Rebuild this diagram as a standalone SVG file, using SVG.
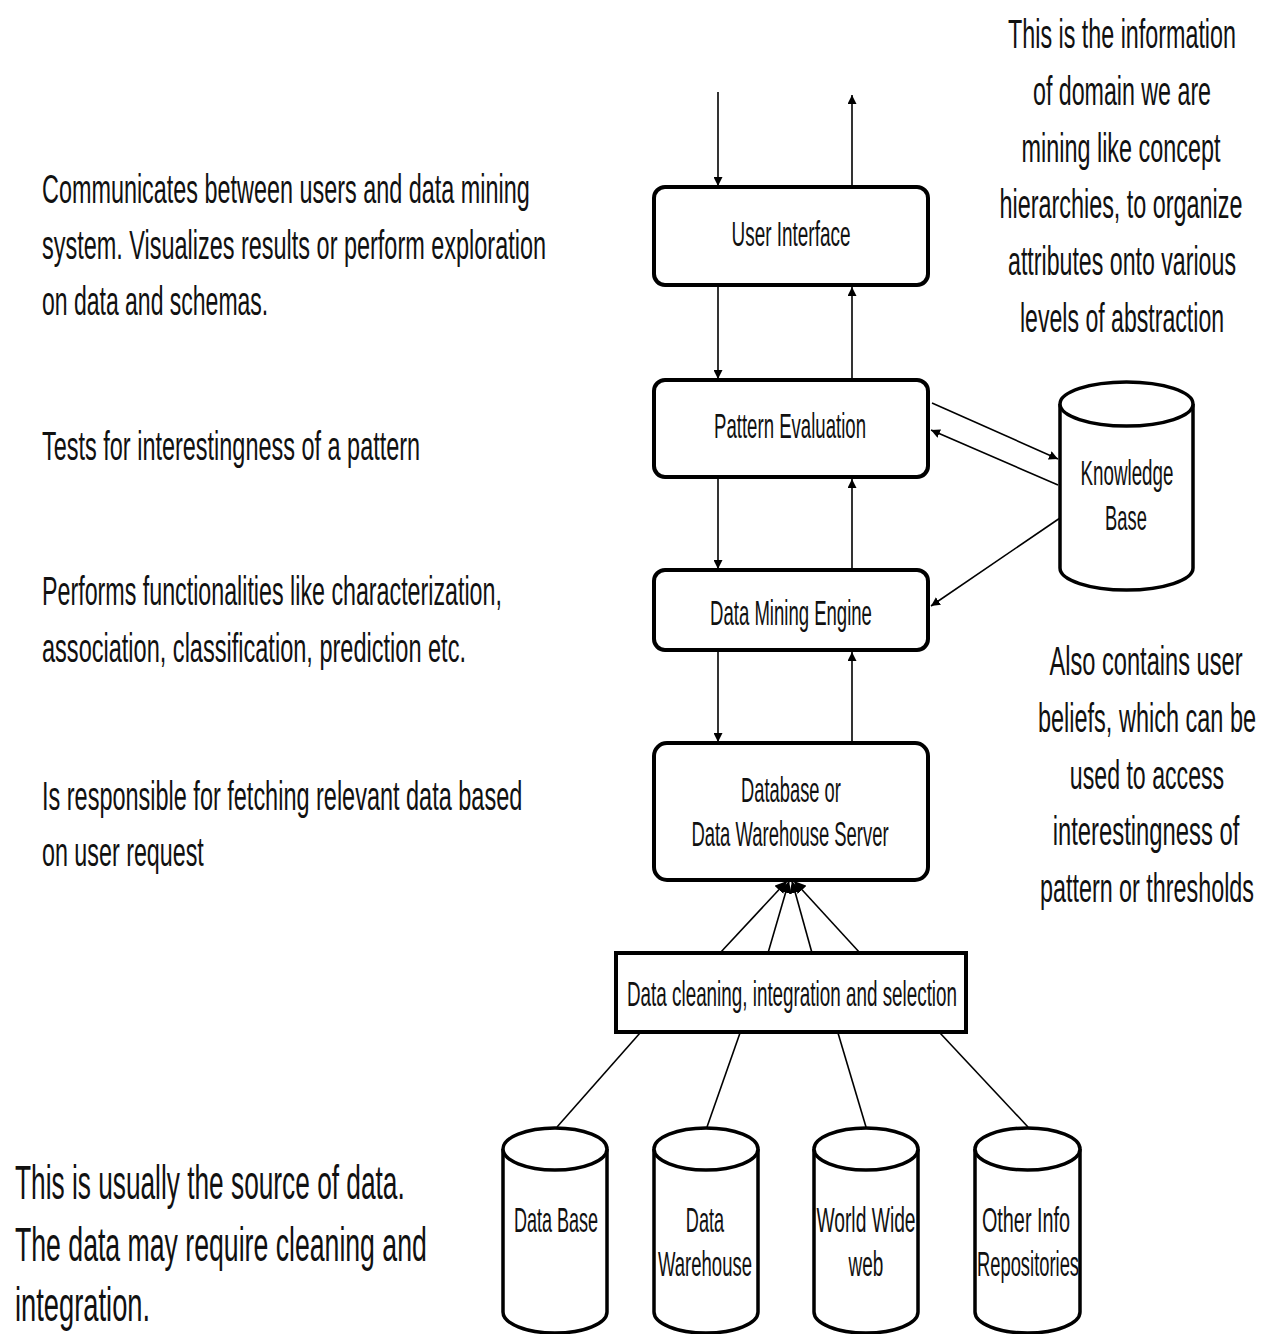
<svg xmlns="http://www.w3.org/2000/svg" width="1266" height="1334" viewBox="0 0 1266 1334">
<style>
.box{fill:#fff;stroke:#000;stroke-width:4}
.cyl{fill:#fff;stroke:#000;stroke-width:3.5}
.ln{stroke:#000;stroke-width:1.6;fill:none}
.nt{font-family:"Liberation Sans",Arial,sans-serif;font-size:35px;fill:#111;text-anchor:middle}
.an{font-family:"Liberation Sans",Arial,sans-serif;font-size:41px;fill:#111}
.anc{font-family:"Liberation Sans",Arial,sans-serif;font-size:41px;fill:#111;text-anchor:middle}
.big{font-family:"Liberation Sans",Arial,sans-serif;font-size:48px;fill:#111}
</style>
<defs>
<marker id="ah" viewBox="0 0 10 10" refX="10" refY="5" markerWidth="9" markerHeight="9" markerUnits="userSpaceOnUse" orient="auto">
<path d="M0,0 L10,5 L0,10 z" fill="#000"/>
</marker>
<marker id="ahl" viewBox="0 0 10 10" refX="10" refY="5" markerWidth="12" markerHeight="12" markerUnits="userSpaceOnUse" orient="auto">
<path d="M0,0 L10,5 L0,10 z" fill="#000"/>
</marker>
</defs>

<g id="connectors">
<line class="ln" x1="718" y1="92" x2="718" y2="186" marker-end="url(#ah)"/>
<line class="ln" x1="852" y1="187" x2="852" y2="95" marker-end="url(#ah)"/>
<line class="ln" x1="718" y1="286" x2="718" y2="379" marker-end="url(#ah)"/>
<line class="ln" x1="852" y1="380" x2="852" y2="287" marker-end="url(#ah)"/>
<line class="ln" x1="718" y1="478" x2="718" y2="569" marker-end="url(#ah)"/>
<line class="ln" x1="852" y1="570" x2="852" y2="479" marker-end="url(#ah)"/>
<line class="ln" x1="718" y1="651" x2="718" y2="742" marker-end="url(#ah)"/>
<line class="ln" x1="852" y1="743" x2="852" y2="652" marker-end="url(#ah)"/>
<line class="ln" x1="932" y1="403" x2="1058" y2="459" marker-end="url(#ah)"/>
<line class="ln" x1="1058" y1="485" x2="931" y2="430" marker-end="url(#ah)"/>
<line class="ln" x1="1060" y1="518" x2="931" y2="606" marker-end="url(#ah)"/>
<line class="ln" x1="720" y1="953" x2="787" y2="881" marker-end="url(#ahl)"/>
<line class="ln" x1="768" y1="953" x2="789" y2="881" marker-end="url(#ahl)"/>
<line class="ln" x1="812" y1="953" x2="792" y2="881" marker-end="url(#ahl)"/>
<line class="ln" x1="860" y1="953" x2="794" y2="881" marker-end="url(#ahl)"/>
<line class="ln" x1="640" y1="1033" x2="557" y2="1127"/>
<line class="ln" x1="740" y1="1033" x2="707" y2="1127"/>
<line class="ln" x1="838" y1="1033" x2="866" y2="1127"/>
<line class="ln" x1="940" y1="1033" x2="1028" y2="1127"/>
</g>

<g id="user-interface">
<rect class="box" x="654" y="187" width="274" height="98" rx="11"/>
<text class="nt" transform="translate(791,246) scale(0.58,1)" textLength="205" lengthAdjust="spacingAndGlyphs">User Interface</text>
</g>
<g id="pattern-evaluation">
<rect class="box" x="654" y="380" width="274" height="97" rx="11"/>
<text class="nt" transform="translate(790,438) scale(0.58,1)" textLength="262" lengthAdjust="spacingAndGlyphs">Pattern Evaluation</text>
</g>
<g id="data-mining-engine">
<rect class="box" x="654" y="570" width="274" height="80" rx="11"/>
<text class="nt" transform="translate(791,625) scale(0.58,1)" textLength="279" lengthAdjust="spacingAndGlyphs">Data Mining Engine</text>
</g>
<g id="db-server">
<rect class="box" x="654" y="743" width="274" height="137" rx="13"/>
<text class="nt" transform="translate(791,802) scale(0.58,1)" textLength="172" lengthAdjust="spacingAndGlyphs">Database or</text>
<text class="nt" transform="translate(790,846) scale(0.58,1)" textLength="340" lengthAdjust="spacingAndGlyphs">Data Warehouse Server</text>
</g>
<g id="data-cleaning">
<rect class="box" x="616" y="953" width="350" height="79"/>
<text class="nt" transform="translate(792,1006) scale(0.58,1)" textLength="569" lengthAdjust="spacingAndGlyphs">Data cleaning, integration and selection</text>
</g>
<g id="knowledge-base">
<path class="cyl" d="M1060,404 A66.5,22 0 0 1 1193,404 L1193,568 A66.5,22 0 0 1 1060,568 Z"/>
<path class="cyl" d="M1060,404 A66.5,22 0 0 0 1193,404"/>
<text class="nt" transform="translate(1127,485) scale(0.58,1)" textLength="160" lengthAdjust="spacingAndGlyphs">Knowledge</text>
<text class="nt" transform="translate(1126,530) scale(0.58,1)" textLength="72" lengthAdjust="spacingAndGlyphs">Base</text>
</g>
<g id="data-base">
<path class="cyl" d="M503,1149 A52,21 0 0 1 607,1149 L607,1312 A52,21 0 0 1 503,1312 Z"/>
<path class="cyl" d="M503,1149 A52,21 0 0 0 607,1149"/>
<text class="nt" transform="translate(556,1232) scale(0.58,1)" textLength="145" lengthAdjust="spacingAndGlyphs">Data Base</text>
</g>
<g id="data-warehouse">
<path class="cyl" d="M654,1149 A52,21 0 0 1 758,1149 L758,1312 A52,21 0 0 1 654,1312 Z"/>
<path class="cyl" d="M654,1149 A52,21 0 0 0 758,1149"/>
<text class="nt" transform="translate(705,1232) scale(0.58,1)" textLength="66" lengthAdjust="spacingAndGlyphs">Data</text>
<text class="nt" transform="translate(705,1276) scale(0.58,1)" textLength="162" lengthAdjust="spacingAndGlyphs">Warehouse</text>
</g>
<g id="world-wide-web">
<path class="cyl" d="M814,1149 A52,21 0 0 1 918,1149 L918,1312 A52,21 0 0 1 814,1312 Z"/>
<path class="cyl" d="M814,1149 A52,21 0 0 0 918,1149"/>
<text class="nt" transform="translate(866,1232) scale(0.58,1)" textLength="171" lengthAdjust="spacingAndGlyphs">World Wide</text>
<text class="nt" transform="translate(866,1276) scale(0.58,1)" textLength="60" lengthAdjust="spacingAndGlyphs">web</text>
</g>
<g id="other-info">
<path class="cyl" d="M975,1149 A52.5,21 0 0 1 1080,1149 L1080,1312 A52.5,21 0 0 1 975,1312 Z"/>
<path class="cyl" d="M975,1149 A52.5,21 0 0 0 1080,1149"/>
<text class="nt" transform="translate(1026,1232) scale(0.58,1)" textLength="152" lengthAdjust="spacingAndGlyphs">Other Info</text>
<text class="nt" transform="translate(1028,1276) scale(0.58,1)" textLength="176" lengthAdjust="spacingAndGlyphs">Repositories</text>
</g>

<g id="annotations">
<text class="an" transform="translate(42,203) scale(0.58,1)" textLength="841" lengthAdjust="spacingAndGlyphs">Communicates  between users and data  mining</text>
<text class="an" transform="translate(42,259) scale(0.58,1)" textLength="869" lengthAdjust="spacingAndGlyphs">system. Visualizes  results or perform exploration</text>
<text class="an" transform="translate(42,315) scale(0.58,1)" textLength="390" lengthAdjust="spacingAndGlyphs">on data and schemas.</text>
<text class="an" transform="translate(42,460) scale(0.58,1)" textLength="652" lengthAdjust="spacingAndGlyphs">Tests for interestingness of a pattern</text>
<text class="an" transform="translate(42,605) scale(0.58,1)" textLength="793" lengthAdjust="spacingAndGlyphs">Performs functionalities like characterization,</text>
<text class="an" transform="translate(42,662) scale(0.58,1)" textLength="731" lengthAdjust="spacingAndGlyphs">association, classification, prediction etc.</text>
<text class="an" transform="translate(42,810) scale(0.58,1)" textLength="828" lengthAdjust="spacingAndGlyphs">Is responsible for fetching relevant data  based</text>
<text class="an" transform="translate(42,866) scale(0.58,1)" textLength="279" lengthAdjust="spacingAndGlyphs">on user request</text>
<text class="big" transform="translate(15,1199) scale(0.58,1)" textLength="672" lengthAdjust="spacingAndGlyphs">This is usually the source of data.</text>
<text class="big" transform="translate(15,1261) scale(0.58,1)" textLength="710" lengthAdjust="spacingAndGlyphs">The data may require cleaning and</text>
<text class="big" transform="translate(15,1321) scale(0.58,1)" textLength="233" lengthAdjust="spacingAndGlyphs">integration.</text>
<text class="anc" transform="translate(1122,48) scale(0.58,1)" textLength="393" lengthAdjust="spacingAndGlyphs">This is the information</text>
<text class="anc" transform="translate(1122,105) scale(0.58,1)" textLength="307" lengthAdjust="spacingAndGlyphs">of domain we are</text>
<text class="anc" transform="translate(1121,162) scale(0.58,1)" textLength="343" lengthAdjust="spacingAndGlyphs">mining like concept</text>
<text class="anc" transform="translate(1121,218) scale(0.58,1)" textLength="419" lengthAdjust="spacingAndGlyphs">hierarchies, to organize</text>
<text class="anc" transform="translate(1122,275) scale(0.58,1)" textLength="393" lengthAdjust="spacingAndGlyphs">attributes onto various</text>
<text class="anc" transform="translate(1122,332) scale(0.58,1)" textLength="352" lengthAdjust="spacingAndGlyphs">levels of abstraction</text>
<text class="anc" transform="translate(1146,675) scale(0.58,1)" textLength="333" lengthAdjust="spacingAndGlyphs">Also contains user</text>
<text class="anc" transform="translate(1147,732) scale(0.58,1)" textLength="376" lengthAdjust="spacingAndGlyphs">beliefs, which can be</text>
<text class="anc" transform="translate(1147,789) scale(0.58,1)" textLength="266" lengthAdjust="spacingAndGlyphs">used to access</text>
<text class="anc" transform="translate(1146,845) scale(0.58,1)" textLength="322" lengthAdjust="spacingAndGlyphs">interestingness of</text>
<text class="anc" transform="translate(1147,902) scale(0.58,1)" textLength="369" lengthAdjust="spacingAndGlyphs">pattern or thresholds</text>
</g>
</svg>
